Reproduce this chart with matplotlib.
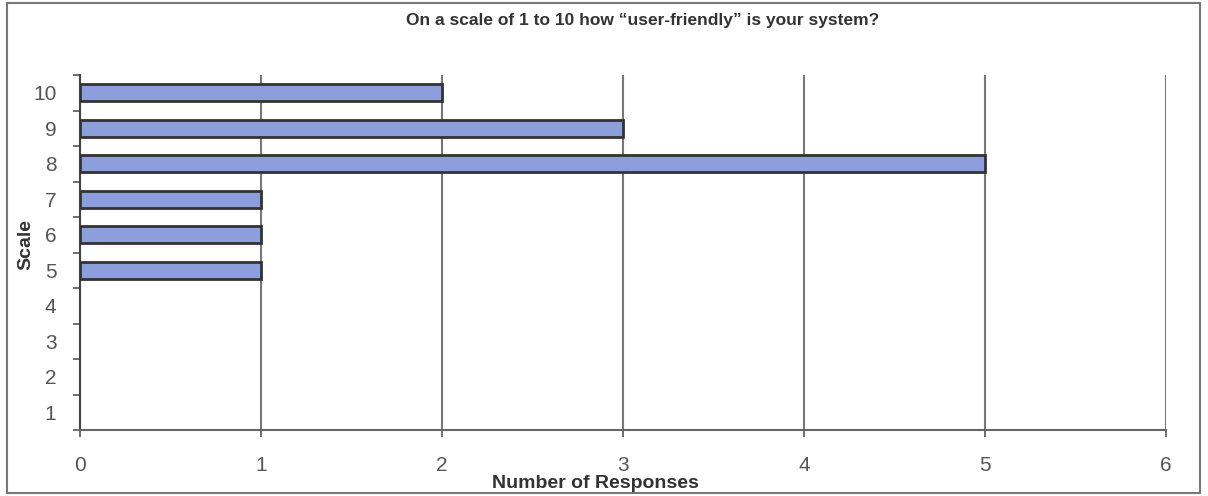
import matplotlib.pyplot as plt
from matplotlib.patches import Rectangle

plt.rcParams['font.family'] = ['Liberation Sans', 'DejaVu Sans']

# survey data
scale = [1, 2, 3, 4, 5, 6, 7, 8, 9, 10]
responses = [0, 0, 0, 0, 1, 1, 1, 5, 3, 2]
x_ticks = [0, 1, 2, 3, 4, 5, 6]

fig = plt.figure(figsize=(12.08, 4.96), dpi=100)
ax = fig.add_axes([80 / 1208, 1 - 430 / 496, (1166 - 80) / 1208, (430 - 75) / 496])

edges = ['#333333' if r > 0 else 'none' for r in responses]
ax.barh(scale, responses, height=0.48, color='#8c9fdc', edgecolor=edges,
        linewidth=2, zorder=3)

ax.set_xlim(0, 6)
ax.set_ylim(0.5, 10.5)
ax.set_xticks(x_ticks)
ax.set_yticks(scale)
ax.set_yticks([s + 0.5 for s in [0] + scale], minor=True)
ax.tick_params(axis='y', which='major', length=0, pad=17, labelsize=15, labelcolor='#555555')
ax.tick_params(axis='y', which='minor', length=5, width=1.2, color='#555555', direction='out')
ax.tick_params(axis='x', length=5, width=1.2, color='#555555', labelsize=15,
               labelcolor='#555555', pad=14)

ax.grid(axis='x', color='#777777', linewidth=1.5, zorder=0)
for side in ['top', 'right']:
    ax.spines[side].set_visible(False)
ax.spines['left'].set_color('#444444')
ax.spines['left'].set_linewidth(1.5)
ax.spines['bottom'].set_color('#666666')
ax.spines['bottom'].set_linewidth(1.5)

fig.text(643 / 1208, 1 - 20 / 496, 'On a scale of 1 to 10 how \u201cuser-friendly\u201d is your system?',
         ha='center', va='center', fontsize=12.5, fontweight='bold', color='#333333')
fig.text(26 / 1208, 1 - 245 / 496, 'Scale', rotation=90, ha='center', va='center',
         fontsize=14, fontweight='bold', color='#333333')
fig.text(595 / 1208, 1 - 483 / 496, 'Number of Responses', ha='center', va='center',
         fontsize=14, fontweight='bold', color='#333333')

# outer chart frame
fig.patches.append(Rectangle((7 / 1208, 3 / 496), 1193 / 1208, 490 / 496,
                             transform=fig.transFigure, fill=False,
                             edgecolor='#777777', linewidth=1.5))

fig.savefig('out.png', dpi=100)
